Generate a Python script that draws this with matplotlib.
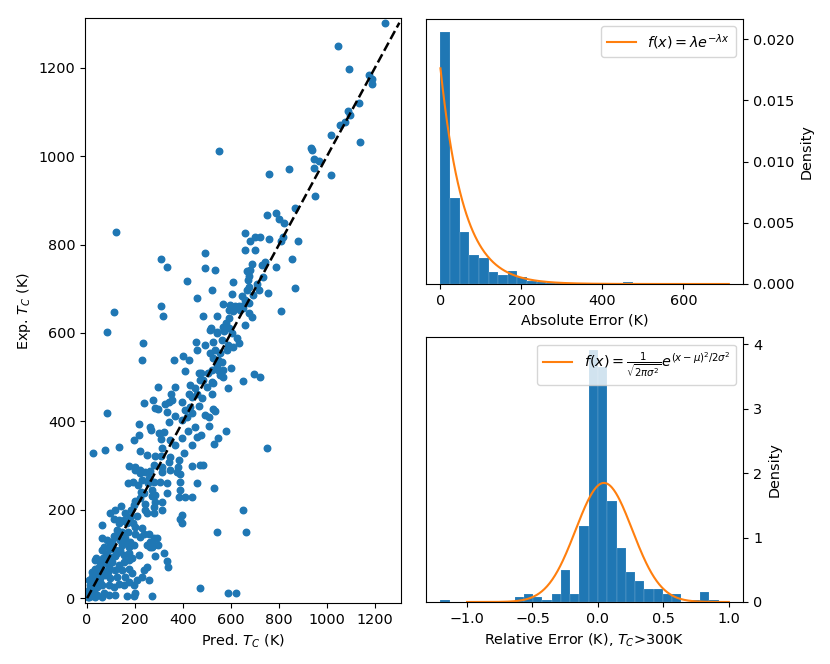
import numpy as np
import matplotlib
matplotlib.use('Agg')
import matplotlib.pyplot as plt

plt.rcParams['font.size'] = 10.4

pred_tc = [1244, 1045, 1092, 1177, 1188, 1188, 1135, 1087, 1098, 1074, 1055, 1018, 1139, 932, 938, 549,
           945, 967, 948, 841, 760, 1016,
           952, 868, 749, 788, 799, 821, 657, 701, 721, 679, 757, 816, 810, 879, 660, 699, 854, 688,
           729, 743, 788, 666, 679, 674, 735, 671, 707, 866, 676, 716, 666, 754, 646, 693, 657, 674,
           646, 810, 674, 688, 660, 638, 651,
           122, 308, 334, 493, 492, 533, 415, 608, 522, 460, 603, 112, 307, 318, 568, 485, 540, 596,
           618, 590, 607, 590, 579, 568, 518, 84, 590, 632, 540,
           234, 230, 361, 400, 425, 455, 458, 407, 465, 296, 365, 430, 350, 424, 437, 275, 239, 340,
           458, 282, 296, 326, 354, 83, 396, 407, 333, 368, 437, 465, 218, 261, 265, 343, 319, 396,
           421, 451, 215, 299, 194, 310, 344, 396, 458, 23, 73, 132, 222, 312, 368, 437, 250, 285,
           310, 347, 403, 340, 382, 173, 199, 222, 278, 312, 379, 437, 472, 472, 451, 430, 417,
           540, 571, 603, 513, 492, 526, 561, 589, 624, 635, 610, 513, 533, 554, 582, 526, 547, 561,
           540, 520, 547, 568, 599, 505, 554, 565, 696, 721, 651, 485, 520, 474, 499, 526, 589, 520,
           478, 526, 533, 492, 510, 510, 579, 474, 547, 529, 750, 485,
           527, 651, 540, 663, 471, 586, 621,
           201, 222, 243, 264, 312, 347, 375, 389, 171, 190, 212, 229, 257, 278, 305, 333, 389, 458,
           236, 271, 284, 333, 389, 382, 410, 437, 222, 194, 243, 284, 312, 278,
           97, 118, 143, 159, 111, 132, 153, 180, 250, 278, 312, 396, 389, 396,
           62, 132, 166, 201, 229, 201, 222, 236, 257, 278, 292,
           62, 83, 104, 125, 139, 159, 180, 69, 97, 118, 146, 173, 194, 250, 264, 278, 83, 104, 125,
           153, 173, 187, 215, 284, 319, 333, 337,
           34, 55, 76, 104, 132, 153, 173, 34, 62, 90, 118, 146, 173, 20, 48, 76, 97, 125, 159, 187,
           236, 250, 229, 257, 208, 173,
           13, 41, 62, 90, 111, 132, 153, 194, 20, 41, 69, 90, 118, 166, 194, 201, 271, 7, 34, 62,
           264, 271, 296,
           5, 12, 18, 25, 30, 40, 45, 50, 55, 65, 70, 80, 85, 95, 100, 110, 115, 125, 135, 145, 150,
           160, 170, 185, 190, 200, 210, 225, 240, 255, 270, 15, 28, 52, 8, 3, 22, 38, 60]
exp_tc = [1302, 1250, 1198, 1184, 1175, 1164, 1121, 1102, 1093, 1078, 1071, 1048, 1033, 1019, 1013, 1011,
          993, 989, 973, 971, 959, 958,
          909, 883, 866, 871, 857, 848, 827, 818, 818, 808, 813, 818, 808, 807, 788, 788, 767, 755,
          753, 761, 749, 741, 743, 729, 726, 720, 711, 702, 703, 697, 697, 690, 684, 687, 675, 667,
          661, 649, 645, 636, 617, 652, 656,
          829, 768, 749, 780, 746, 742, 718, 715, 697, 679, 688, 648, 661, 638, 666, 638, 638, 663,
          662, 652, 649, 634, 623, 614, 611, 602, 612, 660, 602,
          577, 539, 539, 549, 539, 580, 561, 515, 509, 478, 478, 482, 463, 463, 456, 448, 441, 444,
          463, 431, 429, 439, 448, 420, 444, 426, 422, 412, 418, 435, 393, 388, 380, 399, 376, 403,
          379, 388, 369, 373, 358, 359, 358, 362, 365, 329, 335, 343, 334, 339, 346, 346, 324, 321,
          321, 320, 328, 309, 312, 299, 297, 291, 301, 297, 297, 299, 301, 494, 475, 433, 410,
          599, 605, 599, 607, 573, 580, 584, 573, 588, 578, 569, 554, 561, 554, 561, 543, 539, 535,
          527, 516, 516, 516, 520, 509, 505, 500, 507, 501, 491, 494, 490, 509, 478, 486, 476, 462,
          452, 429, 423, 414, 410, 390, 379, 369, 362, 349, 340, 301,
          250, 199, 149, 149, 24, 11, 11,
          290, 284, 286, 288, 286, 290, 286, 281, 260, 263, 256, 267, 271, 263, 263, 260, 263, 260,
          237, 245, 233, 237, 245, 229, 229, 229, 226, 211, 214, 218, 218, 207,
          193, 199, 208, 192, 180, 177, 177, 184, 192, 192, 199, 188, 180, 169,
          165, 169, 169, 161, 158, 146, 139, 146, 146, 135, 135,
          135, 131, 127, 139, 131, 135, 127, 116, 112, 109, 120, 116, 120, 120, 116, 120, 97, 94, 101,
          97, 101, 90, 97, 95, 101, 84, 71,
          86, 82, 79, 82, 75, 82, 86, 67, 63, 71, 63, 63, 67, 48, 48, 52, 45, 48, 48, 56,
          63, 71, 48, 41, 41, 37,
          29, 26, 29, 29, 26, 33, 29, 29, 11, 7, 11, 7, 7, 5, 5, 11, 5, 2, 2, 2,
          127, 116, 120,
          15, 22, 35, 40, 55, 38, 60, 70, 45, 90, 58, 100, 60, 120, 85, 140, 95, 155, 110, 150, 125,
          175, 150, 200, 170, 220, 185, 240, 200, 260, 230, 5, 18, 36, 40, 3, 60, 90, 110]

# absolute error histogram (density), 30 bins over 0..712 K
abs_range = (0, 712)
abs_density = [0.02063, 0.00700, 0.00428, 0.00237, 0.00213, 0.00098, 0.00076, 0.00109, 0.00060, 0.00022,
               0.00016, 0.00012, 0.00008, 0.00005, 0.00005, 0.00004, 0.00004, 0.00010, 0.00004, 0.00014,
               0.00004, 0.00010, 0.00004, 0.00000, 0.00005, 0.00000, 0.00000, 0.00000, 0.00000, 0.00005]
exp_lambda = 0.01763

# relative error histogram (density), Tc > 300 K, 30 bins
rel_range = (-1.203, 0.921)
rel_density = [0.026, 0, 0, 0, 0, 0, 0, 0, 0.07, 0.12,
               0.07, 0.026, 0.12, 0.50, 0.12, 1.18, 3.91, 3.65, 1.57, 0.84,
               0.46, 0.33, 0.20, 0.20, 0.12, 0.12, 0, 0.026, 0.16, 0.026]
gauss_mu = 0.046
gauss_sigma = 0.216

fig = plt.figure(figsize=(8.3, 6.64), dpi=100)

# left: parity plot
ax1 = fig.add_axes([0.1028, 0.0919, 0.3807, 0.8805])
ax1.scatter(pred_tc, exp_tc, s=22, color='C0')
line_max = max(exp_tc)
ax1.plot([0, line_max], [0, line_max], 'k--', lw=1.8)
ax1.set_xlim(-7.5, 1310)
ax1.set_ylim(-11, 1312)
ax1.set_xticks(range(0, 1201, 200))
ax1.set_yticks(range(0, 1201, 200))
ax1.set_xlabel('Pred. $T_C$ (K)')
ax1.set_ylabel('Exp. $T_C$ (K)')

# top right: absolute error
ax2 = fig.add_axes([0.5133, 0.5723, 0.3822, 0.3991])
abs_edges = np.linspace(abs_range[0], abs_range[1], len(abs_density) + 1)
ax2.hist(abs_edges[:-1], bins=abs_edges, weights=abs_density, color='C0',
         edgecolor=(1, 1, 1, 0.35), linewidth=0.3)
xa = np.linspace(abs_range[0], abs_range[1], 400)
ax2.plot(xa, exp_lambda * np.exp(-exp_lambda * xa), color='C1', label=r'$f(x) = \lambda e^{-\lambda x}$')
ax2.yaxis.tick_right()
ax2.yaxis.set_label_position('right')
ax2.set_yticks([0, 0.005, 0.010, 0.015, 0.020])
ax2.set_xticks([0, 200, 400, 600])
ax2.set_xlabel('Absolute Error (K)')
ax2.set_ylabel('Density')
ax2.legend(loc='upper right')

# bottom right: relative error
ax3 = fig.add_axes([0.5133, 0.0934, 0.3822, 0.3986])
rel_edges = np.linspace(rel_range[0], rel_range[1], len(rel_density) + 1)
ax3.hist(rel_edges[:-1], bins=rel_edges, weights=rel_density, color='C0',
         edgecolor=(1, 1, 1, 0.35), linewidth=0.3)
xr = np.linspace(-1, 1, 400)
ax3.plot(xr, np.exp(-(xr - gauss_mu) ** 2 / (2 * gauss_sigma ** 2)) / np.sqrt(2 * np.pi * gauss_sigma ** 2),
         color='C1', label=r'$f(x) = \frac{1}{\sqrt{2\pi\sigma^2}}e^{(x-\mu)^2/2\sigma^2}$')
ax3.yaxis.tick_right()
ax3.yaxis.set_label_position('right')
ax3.set_xticks([-1.0, -0.5, 0.0, 0.5, 1.0])
ax3.set_yticks([0, 1, 2, 3, 4])
ax3.set_xlabel('Relative Error (K), $T_C$>300K')
ax3.set_ylabel('Density')
ax3.legend(loc='upper right')

plt.savefig('out.png', dpi=100)
